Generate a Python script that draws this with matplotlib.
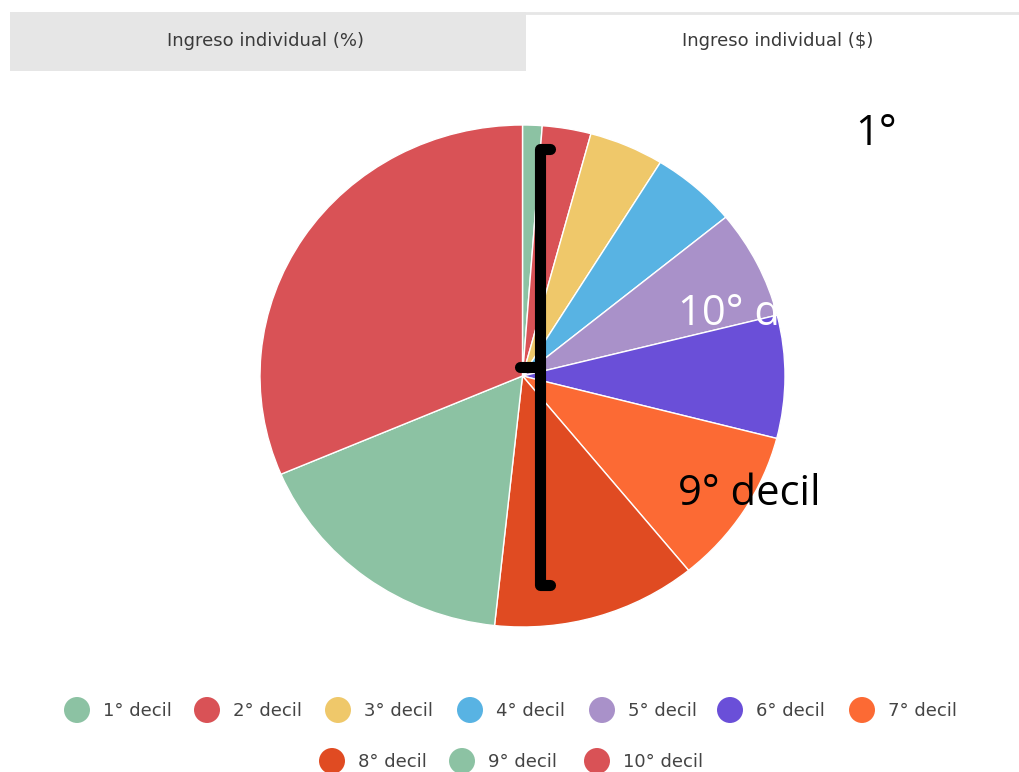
import matplotlib.pyplot as plt
from matplotlib.patches import Rectangle

# slice shares (percent), clockwise from 12 o'clock
deciles = ['1° decil', '2° decil', '3° decil', '4° decil', '5° decil',
           '6° decil', '7° decil', '8° decil', '9° decil', '10° decil']
shares = [1.2, 3.0, 4.6, 5.3, 7.0, 7.9, 10.1, 12.6, 16.9, 31.4]
colors = ['#8cc2a3', '#d95256', '#efc86a', '#58b3e3', '#a991c9',
          '#6a4fd8', '#fc6a34', '#e04b22', '#8cc2a3', '#d95256']
tabs = ['Ingreso individual (%)', 'Ingreso individual ($)']

W, H = 1019, 772
fig = plt.figure(figsize=(W / 100, H / 100), dpi=100)

# pie axes (stretched slightly wider than tall, like the screenshot)
ax = fig.add_axes([260 / W, 1 - 627 / H, 525 / W, 502 / H])
ax.pie(shares, colors=colors, startangle=90, counterclock=False,
       wedgeprops=dict(edgecolor='white', linewidth=1))
ax.set_aspect('auto')
ax.set_xlim(-1, 1)
ax.set_ylim(-1, 1)
ax.axis('off')

# overlay in pixel coordinates for tabs, legend and annotations
ov = fig.add_axes([0, 0, 1, 1], zorder=5)
ov.set_xlim(0, W)
ov.set_ylim(H, 0)
ov.axis('off')
ov.patch.set_alpha(0)

# tabs
ov.add_patch(Rectangle((10, 12), 516, 59, facecolor='#e6e6e6', edgecolor='none'))
ov.plot([526, W], [13, 13], color='#e6e6e6', lw=2)
ov.text(266, 41, tabs[0], ha='center', va='center', fontsize=13,
        color='#3a3a3a', family='DejaVu Sans')
ov.text(778, 41, tabs[1], ha='center', va='center', fontsize=13,
        color='#3a3a3a', family='DejaVu Sans')

# legend (7 items on first row, 3 on second)
row1_x = [77, 207, 338, 470, 602, 730, 862]
row2_x = [332, 462, 597]
pos = [(x, 710) for x in row1_x] + [(x, 761) for x in row2_x]
for (x, y), lab, c in zip(pos, deciles, colors):
    ov.scatter([x], [y], s=350, color=c, edgecolors='none')
    ov.text(x + 26, y + 1, lab, ha='left', va='center', fontsize=13,
            color='#444444', family='DejaVu Sans')

# hand-drawn bracket
bk = dict(color='black', lw=8, solid_capstyle='round', solid_joinstyle='round')
ov.plot([550, 540, 540, 550], [149, 149, 585, 585], **bk)
ov.plot([520, 540], [367, 367], **bk)

# annotation texts
ov.text(855, 145, '1°', ha='left', va='baseline', fontsize=30,
        color='black', family='Open Sans')
ov.text(678, 325, '10° decil', ha='left', va='baseline', fontsize=30,
        color='white', family='Open Sans')
ov.text(678, 505, '9° decil', ha='left', va='baseline', fontsize=30,
        color='black', family='Open Sans')

fig.savefig('out.png', dpi=100)
